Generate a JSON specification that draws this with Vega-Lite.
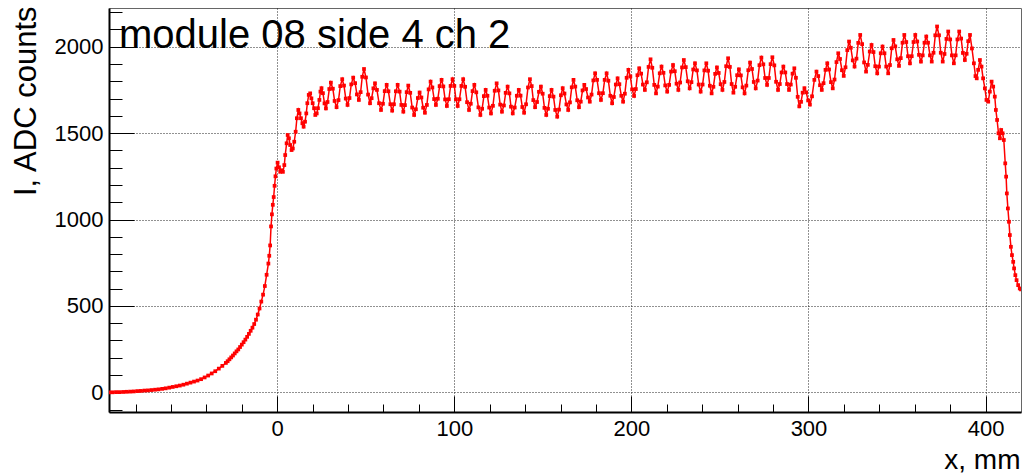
{
"$schema": "https://vega.github.io/schema/vega-lite/v6.json",
"width": 912, "height": 404,
"autosize": "none",
"padding": {"left": 109, "top": 8, "right": 5, "bottom": 63},
"background": "white",
"config": {"view": {"stroke": "#666", "strokeWidth": 1}, "font": "Liberation Sans"},
"title": {"text": "module 08 side 4 ch 2", "anchor": "start", "frame": "group", "fontSize": 40, "font": "Liberation Sans", "fontWeight": "normal", "color": "#000", "offset": 0, "baseline": "alphabetic", "dx": 10, "dy": 87},
"data": {"values": [
{"x":-95,"y":0},{"x":-93,"y":0},{"x":-91,"y":1},{"x":-89,"y":1},{"x":-87,"y":2},{"x":-85,"y":3},{"x":-83,"y":4},{"x":-81,"y":5},{"x":-79,"y":7},{"x":-77,"y":8},{"x":-75,"y":10},{"x":-73,"y":11},{"x":-71,"y":13},{"x":-69,"y":15},{"x":-67,"y":17},{"x":-65,"y":20},{"x":-63,"y":23},{"x":-61,"y":27},{"x":-59,"y":31},{"x":-57,"y":35},{"x":-55,"y":39},{"x":-53,"y":44},{"x":-51,"y":50},{"x":-49,"y":56},{"x":-47,"y":62},{"x":-45,"y":68},{"x":-43,"y":76},{"x":-41,"y":86},{"x":-39,"y":97},{"x":-37,"y":109},{"x":-35,"y":122},{"x":-33,"y":137},{"x":-31,"y":153},{"x":-29,"y":170},{"x":-28,"y":180},{"x":-27,"y":191},{"x":-26,"y":202},{"x":-25,"y":213},{"x":-24,"y":225},{"x":-23,"y":237},{"x":-22,"y":248},{"x":-21,"y":262},{"x":-20,"y":276},{"x":-19,"y":290},{"x":-18,"y":305},{"x":-17,"y":321},{"x":-16,"y":338},{"x":-15,"y":356},{"x":-14,"y":374},{"x":-13,"y":395},{"x":-12,"y":420},{"x":-11,"y":450},{"x":-10,"y":485},{"x":-9,"y":525},{"x":-8,"y":565},{"x":-7,"y":615},{"x":-6,"y":680},{"x":-5,"y":745},{"x":-4.5,"y":790},{"x":-4,"y":850},{"x":-3.5,"y":960},{"x":-3,"y":1030},{"x":-2.5,"y":1085},{"x":-2,"y":1130},{"x":-1.5,"y":1195},{"x":-1,"y":1250},{"x":-0.5,"y":1295},
{"x":0.2,"y":1329},{"x":1.0,"y":1302},{"x":1.7,"y":1276},{"x":2.5,"y":1285},{"x":3.2,"y":1276},{"x":4.0,"y":1315},{"x":4.5,"y":1373},{"x":5.3,"y":1441},{"x":5.9,"y":1489},{"x":6.6,"y":1470},{"x":7.3,"y":1431},{"x":8.1,"y":1402},{"x":8.8,"y":1411},{"x":9.6,"y":1450},{"x":10.4,"y":1508},{"x":11.1,"y":1586},{"x":11.9,"y":1634},{"x":12.6,"y":1614},{"x":13.4,"y":1586},{"x":14.2,"y":1557},{"x":14.9,"y":1537},{"x":15.7,"y":1566},{"x":16.4,"y":1614},{"x":17.0,"y":1673},{"x":17.8,"y":1721},{"x":18.6,"y":1730},{"x":19.3,"y":1701},{"x":20.0,"y":1673},{"x":20.8,"y":1644},{"x":21.5,"y":1605},{"x":22.3,"y":1614},{"x":23.0,"y":1644},{"x":23.8,"y":1692},{"x":24.4,"y":1740},
{"x":25.0,"y":1760},{"x":25.8,"y":1731},{"x":26.7,"y":1672},{"x":27.5,"y":1643},{"x":28.4,"y":1680},{"x":29.4,"y":1755},{"x":30.3,"y":1792},{"x":31.4,"y":1757},{"x":32.4,"y":1686},{"x":33.5,"y":1650},{"x":34.6,"y":1691},{"x":35.6,"y":1772},{"x":36.7,"y":1812},{"x":37.7,"y":1775},{"x":38.7,"y":1700},{"x":39.7,"y":1663},{"x":40.8,"y":1703},{"x":41.8,"y":1782},{"x":42.9,"y":1821},{"x":44.0,"y":1789},{"x":45.0,"y":1724},{"x":46.1,"y":1692},{"x":47.1,"y":1737},{"x":48.0,"y":1826},{"x":49.0,"y":1871},{"x":50.1,"y":1822},{"x":51.3,"y":1723},{"x":52.4,"y":1673},{"x":53.3,"y":1702},{"x":54.3,"y":1759},{"x":55.2,"y":1788},{"x":56.3,"y":1750},{"x":57.5,"y":1673},{"x":58.6,"y":1634},{"x":59.7,"y":1670},{"x":60.7,"y":1743},{"x":61.8,"y":1779},{"x":62.8,"y":1742},{"x":63.9,"y":1667},{"x":64.9,"y":1630},{"x":65.9,"y":1667},{"x":67.0,"y":1742},{"x":68.0,"y":1779},{"x":69.1,"y":1740},{"x":70.1,"y":1663},{"x":71.2,"y":1624},{"x":72.1,"y":1662},{"x":73.1,"y":1737},{"x":74.0,"y":1775},{"x":75.1,"y":1733},{"x":76.2,"y":1648},{"x":77.3,"y":1605},{"x":78.3,"y":1638},{"x":79.4,"y":1703},{"x":80.4,"y":1735},{"x":81.4,"y":1706},{"x":82.4,"y":1647},{"x":83.4,"y":1618},{"x":84.5,"y":1663},{"x":85.5,"y":1753},{"x":86.6,"y":1798},{"x":87.6,"y":1764},{"x":88.6,"y":1697},{"x":89.6,"y":1663},{"x":90.7,"y":1699},{"x":91.7,"y":1772},{"x":92.8,"y":1808},{"x":93.8,"y":1770},{"x":94.8,"y":1695},{"x":95.8,"y":1657},{"x":96.9,"y":1696},{"x":97.9,"y":1773},{"x":99.0,"y":1812},{"x":100.0,"y":1773},{"x":100.9,"y":1696},{"x":101.9,"y":1657},{"x":102.9,"y":1696},{"x":104.0,"y":1773},{"x":105.0,"y":1812},{"x":106.1,"y":1768},{"x":107.2,"y":1679},{"x":108.3,"y":1634},{"x":109.3,"y":1670},{"x":110.3,"y":1743},{"x":111.3,"y":1779},{"x":112.4,"y":1736},{"x":113.6,"y":1649},{"x":114.7,"y":1605},{"x":115.7,"y":1641},{"x":116.7,"y":1714},{"x":117.7,"y":1750},{"x":118.7,"y":1716},{"x":119.7,"y":1648},{"x":120.7,"y":1614},{"x":121.8,"y":1658},{"x":122.8,"y":1745},{"x":123.9,"y":1788},{"x":124.9,"y":1747},{"x":125.9,"y":1665},{"x":126.9,"y":1624},{"x":128.0,"y":1660},{"x":129.0,"y":1733},{"x":130.1,"y":1769},{"x":131.1,"y":1730},{"x":132.0,"y":1653},{"x":133.0,"y":1614},{"x":134.1,"y":1648},{"x":135.3,"y":1716},{"x":136.4,"y":1750},{"x":137.4,"y":1717},{"x":138.4,"y":1651},{"x":139.4,"y":1618},{"x":140.5,"y":1667},{"x":141.6,"y":1764},{"x":142.7,"y":1812},{"x":143.7,"y":1772},{"x":144.6,"y":1691},{"x":145.6,"y":1650},{"x":146.7,"y":1680},{"x":147.8,"y":1739},{"x":148.9,"y":1769},{"x":149.9,"y":1728},{"x":150.9,"y":1646},{"x":151.9,"y":1605},{"x":152.9,"y":1641},{"x":153.9,"y":1714},{"x":154.9,"y":1750},{"x":156.0,"y":1711},{"x":157.0,"y":1634},{"x":158.1,"y":1595},{"x":159.1,"y":1636},{"x":160.2,"y":1719},{"x":161.2,"y":1760},{"x":162.2,"y":1729},{"x":163.3,"y":1666},{"x":164.3,"y":1634},{"x":165.3,"y":1678},{"x":166.3,"y":1765},{"x":167.3,"y":1808},{"x":168.3,"y":1769},{"x":169.4,"y":1690},{"x":170.4,"y":1650},{"x":171.4,"y":1682},{"x":172.4,"y":1747},{"x":173.4,"y":1779},{"x":174.4,"y":1755},{"x":175.5,"y":1706},{"x":176.5,"y":1682},{"x":177.5,"y":1723},{"x":178.5,"y":1805},{"x":179.5,"y":1846},{"x":180.6,"y":1808},{"x":181.7,"y":1731},{"x":182.8,"y":1692},{"x":183.9,"y":1731},{"x":184.9,"y":1808},{"x":186.0,"y":1846},{"x":187.0,"y":1803},{"x":188.1,"y":1716},{"x":189.1,"y":1673},{"x":190.1,"y":1709},{"x":191.2,"y":1781},{"x":192.2,"y":1817},{"x":193.2,"y":1783},{"x":194.3,"y":1716},{"x":195.3,"y":1682},{"x":196.3,"y":1728},{"x":197.3,"y":1820},{"x":198.3,"y":1866},{"x":199.4,"y":1828},{"x":200.4,"y":1753},{"x":201.5,"y":1715},{"x":202.5,"y":1755},{"x":203.4,"y":1835},{"x":204.4,"y":1875},{"x":205.5,"y":1844},{"x":206.5,"y":1781},{"x":207.6,"y":1750},{"x":208.7,"y":1794},{"x":209.7,"y":1883},{"x":210.8,"y":1927},{"x":211.8,"y":1878},{"x":212.9,"y":1779},{"x":213.9,"y":1730},{"x":214.9,"y":1769},{"x":216.0,"y":1846},{"x":217.0,"y":1885},{"x":218.1,"y":1849},{"x":219.1,"y":1776},{"x":220.2,"y":1740},{"x":221.3,"y":1779},{"x":222.4,"y":1856},{"x":223.5,"y":1894},{"x":224.5,"y":1858},{"x":225.5,"y":1786},{"x":226.5,"y":1750},{"x":227.5,"y":1793},{"x":228.6,"y":1880},{"x":229.6,"y":1923},{"x":230.7,"y":1882},{"x":231.8,"y":1800},{"x":232.9,"y":1759},{"x":233.9,"y":1795},{"x":234.9,"y":1868},{"x":235.9,"y":1904},{"x":237.0,"y":1863},{"x":238.0,"y":1781},{"x":239.1,"y":1740},{"x":240.2,"y":1781},{"x":241.2,"y":1863},{"x":242.3,"y":1904},{"x":243.3,"y":1861},{"x":244.3,"y":1774},{"x":245.3,"y":1730},{"x":246.3,"y":1768},{"x":247.3,"y":1843},{"x":248.3,"y":1880},{"x":249.3,"y":1848},{"x":250.4,"y":1783},{"x":251.4,"y":1750},{"x":252.5,"y":1796},{"x":253.5,"y":1887},{"x":254.6,"y":1933},{"x":255.6,"y":1883},{"x":256.6,"y":1784},{"x":257.6,"y":1734},{"x":258.6,"y":1768},{"x":259.7,"y":1835},{"x":260.7,"y":1869},{"x":261.8,"y":1834},{"x":262.8,"y":1765},{"x":263.9,"y":1730},{"x":264.9,"y":1775},{"x":266.0,"y":1864},{"x":267.0,"y":1908},{"x":268.1,"y":1871},{"x":269.1,"y":1796},{"x":270.2,"y":1759},{"x":271.3,"y":1804},{"x":272.3,"y":1893},{"x":273.4,"y":1937},{"x":274.5,"y":1898},{"x":275.5,"y":1819},{"x":276.6,"y":1779},{"x":277.6,"y":1819},{"x":278.6,"y":1899},{"x":279.6,"y":1939},{"x":280.7,"y":1892},{"x":281.7,"y":1797},{"x":282.8,"y":1750},{"x":283.8,"y":1784},{"x":284.8,"y":1851},{"x":285.8,"y":1885},{"x":286.9,"y":1851},{"x":287.9,"y":1784},{"x":289.0,"y":1750},{"x":290.0,"y":1781},{"x":291.0,"y":1844},{"x":292.0,"y":1875},{"x":292.9,"y":1820},{"x":293.9,"y":1710},{"x":294.8,"y":1655},{"x":295.8,"y":1681},{"x":296.7,"y":1734},{"x":297.7,"y":1760},{"x":298.7,"y":1736},{"x":299.8,"y":1689},{"x":300.8,"y":1665},{"x":302.0,"y":1713},{"x":303.3,"y":1808},{"x":304.5,"y":1856},{"x":305.5,"y":1830},{"x":306.5,"y":1777},{"x":307.5,"y":1750},{"x":308.5,"y":1789},{"x":309.6,"y":1866},{"x":310.6,"y":1904},{"x":311.6,"y":1868},{"x":312.7,"y":1795},{"x":313.7,"y":1759},{"x":314.7,"y":1810},{"x":315.8,"y":1911},{"x":316.8,"y":1962},{"x":317.8,"y":1929},{"x":318.9,"y":1864},{"x":319.9,"y":1831},{"x":320.9,"y":1881},{"x":321.9,"y":1980},{"x":322.9,"y":2030},{"x":323.9,"y":1994},{"x":325.0,"y":1921},{"x":326.0,"y":1885},{"x":327.1,"y":1931},{"x":328.1,"y":2022},{"x":329.2,"y":2068},{"x":330.3,"y":2015},{"x":331.4,"y":1909},{"x":332.5,"y":1856},{"x":333.5,"y":1895},{"x":334.6,"y":1972},{"x":335.6,"y":2010},{"x":336.7,"y":1969},{"x":337.7,"y":1887},{"x":338.8,"y":1846},{"x":339.8,"y":1885},{"x":340.8,"y":1962},{"x":341.8,"y":2001},{"x":342.9,"y":1962},{"x":343.9,"y":1885},{"x":345.0,"y":1846},{"x":346.0,"y":1894},{"x":347.0,"y":1991},{"x":348.0,"y":2039},{"x":349.0,"y":2002},{"x":350.1,"y":1927},{"x":351.1,"y":1889},{"x":352.1,"y":1934},{"x":353.1,"y":2023},{"x":354.1,"y":2068},{"x":355.2,"y":2027},{"x":356.2,"y":1945},{"x":357.3,"y":1904},{"x":358.3,"y":1945},{"x":359.3,"y":2027},{"x":360.3,"y":2068},{"x":361.4,"y":2030},{"x":362.4,"y":1953},{"x":363.5,"y":1914},{"x":364.5,"y":1950},{"x":365.5,"y":2023},{"x":366.5,"y":2059},{"x":367.5,"y":2023},{"x":368.6,"y":1950},{"x":369.6,"y":1914},{"x":370.6,"y":1965},{"x":371.6,"y":2066},{"x":372.6,"y":2117},{"x":373.7,"y":2066},{"x":374.7,"y":1965},{"x":375.8,"y":1914},{"x":376.8,"y":1958},{"x":377.9,"y":2045},{"x":378.9,"y":2088},{"x":380.0,"y":2042},{"x":381.0,"y":1950},{"x":382.1,"y":1904},{"x":383.1,"y":1950},{"x":384.1,"y":2042},{"x":385.1,"y":2088},{"x":386.2,"y":2047},{"x":387.2,"y":1964},{"x":388.3,"y":1923},{"x":389.3,"y":1959},{"x":390.2,"y":2032},{"x":391.2,"y":2068},
{"x":392.3,"y":1990},{"x":393.4,"y":1904},{"x":394.3,"y":1830},{"x":395.0,"y":1817},{"x":395.8,"y":1866},{"x":396.8,"y":1923},{"x":397.7,"y":1885},{"x":398.6,"y":1817},{"x":399.6,"y":1759},{"x":400.5,"y":1692},{"x":401.5,"y":1682},{"x":402.4,"y":1740},{"x":403.4,"y":1798},{"x":404.3,"y":1769},{"x":405.2,"y":1711},{"x":405.8,"y":1634},{"x":406.5,"y":1576},{"x":407.3,"y":1499},{"x":408.1,"y":1470},{"x":408.8,"y":1518},{"x":409.6,"y":1499},{"x":410.3,"y":1460},{"x":411.1,"y":1325},{"x":411.6,"y":1248},{"x":412.0,"y":1151},{"x":412.6,"y":1064},{"x":413.2,"y":987},{"x":413.7,"y":910},{"x":414.3,"y":842},{"x":414.9,"y":794},{"x":415.6,"y":755},{"x":416.1,"y":717},{"x":416.8,"y":678},{"x":417.5,"y":649},{"x":418.4,"y":620},{"x":419.3,"y":601},{"x":420.0,"y":595}
]},
"encoding": {
  "x": {"field": "x", "type": "quantitative",
    "scale": {"domain": [-95, 420], "nice": false, "zero": false},
    "axis": {"title": "x, mm", "values": [-80,-60,-40,-20,0,20,40,60,80,100,120,140,160,180,200,220,240,260,280,300,320,340,360,380,400],
      "format": "d", "labelExpr": "datum.value % 100 === 0 ? datum.label : ''",
      "tickSize": {"condition": {"test": "datum.value % 100 === 0", "value": -16}, "value": -8},
      "tickColor": "#000", "tickWidth": 1,
      "grid": true, "gridOpacity": {"condition": {"test": "datum.value % 100 === 0", "value": 1}, "value": 0},
      "gridDash": [1, 2], "gridColor": "#222", "gridWidth": 1,
      "domainColor": "#000", "domainWidth": 2,
      "labelFont": "Liberation Sans", "labelFontSize": 22, "labelColor": "#000", "labelPadding": 22, "labelOverlap": false, "labelFlush": false,
      "titleFont": "Liberation Sans", "titleFontSize": 28, "titleFontWeight": "normal", "titleColor": "#000",
      "titleAlign": "right", "titleAnchor": null, "titleX": 911, "titleY": 56, "titleBaseline": "alphabetic"}},
  "y": {"field": "y", "type": "quantitative",
    "scale": {"domain": [-114, 2224], "nice": false, "zero": false},
    "axis": {"title": "I, ADC counts", "values": [-100,0,100,200,300,400,500,600,700,800,900,1000,1100,1200,1300,1400,1500,1600,1700,1800,1900,2000,2100,2200],
      "format": "d", "labelExpr": "datum.value % 500 === 0 ? datum.label : ''",
      "tickSize": {"condition": {"test": "datum.value % 500 === 0", "value": -25}, "value": -13},
      "tickColor": "#000", "tickWidth": 1,
      "grid": true, "gridOpacity": {"condition": {"test": "datum.value % 500 === 0", "value": 1}, "value": 0},
      "gridDash": [1, 2], "gridColor": "#222", "gridWidth": 1,
      "domainColor": "#000", "domainWidth": 2,
      "labelFont": "Liberation Sans", "labelFontSize": 22, "labelColor": "#000", "labelPadding": 31, "labelOverlap": false, "labelFlush": false,
      "titleFont": "Liberation Sans", "titleFontSize": 31, "titleFontWeight": "normal", "titleColor": "#000",
      "titleAngle": 270, "titleAlign": "right", "titleAnchor": null, "titleX": -74, "titleY": -2, "titleBaseline": "alphabetic"}}
},
"layer": [
  {"mark": {"type": "line", "color": "#ff0000", "strokeWidth": 1.5, "clip": true}},
  {"mark": {"type": "point", "shape": "square", "filled": true, "size": 14, "color": "#ff0000", "opacity": 1, "clip": true}}
]
}
